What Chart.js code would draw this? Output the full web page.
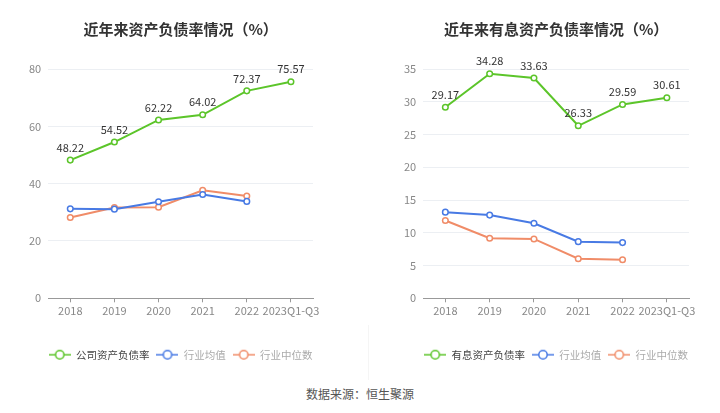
<!DOCTYPE html>
<html>
<head>
<meta charset="utf-8">
<script src="https://cdn.jsdelivr.net/npm/chart.js@4"></script>
<style>
  body { margin: 0; background: #fff; width: 720px; height: 413px; overflow: hidden; font-family: "Noto Sans CJK SC", sans-serif; }
  .wrap { position: absolute; top: 0; width: 360px; height: 378px; }
  #left { left: 0; }
  #right { left: 360px; }
  .divider { position: absolute; left: 368px; top: 325px; width: 1px; height: 55px; background: #f5f5f5; }
  .source { position: absolute; top: 385px; width: 720px; text-align: center; font-size: 12px; color: #555; }
</style>
</head>
<body>
<div class="wrap" id="left"><canvas id="chartLeft"></canvas></div>
<div class="wrap" id="right"><canvas id="chartRight"></canvas></div>
<div class="divider"></div>
<div class="source">数据来源：恒生聚源</div>
<script>
// categories
const years = ["2018", "2019", "2020", "2021", "2022", "2023Q1-Q3"];

// left chart: 资产负债率 (%)
const assetDebtRatio = [48.22, 54.52, 62.22, 64.02, 72.37, 75.57];
const assetIndustryMean = [31.2, 31.1, 33.7, 36.2, 33.8, null];
const assetIndustryMedian = [28.2, 31.7, 31.8, 37.7, 35.7, null];

// right chart: 有息资产负债率 (%)
const interestDebtRatio = [29.17, 34.28, 33.63, 26.33, 29.59, 30.61];
const interestIndustryMean = [13.15, 12.7, 11.46, 8.65, 8.5, null];
const interestIndustryMedian = [11.87, 9.16, 9.06, 6.04, 5.88, null];

const GREEN = "rgb(92,197,42)";
const BLUE = "rgb(72,122,228)";
const ORANGE = "rgb(240,140,104)";
const FONT = "'Noto Sans CJK SC', sans-serif";

function legendIcon(color) {
  const c = document.createElement("canvas");
  c.width = 22; c.height = 12;
  const g = c.getContext("2d");
  g.strokeStyle = color;
  g.lineWidth = 1.5;
  g.beginPath(); g.moveTo(0, 6); g.lineTo(22, 6); g.stroke();
  g.fillStyle = "#fff";
  g.beginPath(); g.arc(11, 6, 4.2, 0, Math.PI * 2); g.fill(); g.stroke();
  return c;
}

const valueLabels = {
  id: "valueLabels",
  afterDatasetsDraw(chart) {
    const ctx = chart.ctx;
    const meta = chart.getDatasetMeta(0);
    const vals = chart.data.datasets[0].data;
    ctx.save();
    ctx.font = "11px " + FONT;
    ctx.fillStyle = "#333";
    ctx.textAlign = "center";
    ctx.textBaseline = "bottom";
    meta.data.forEach((pt, i) => {
      ctx.fillText(vals[i].toFixed(2), pt.x, pt.y - 7);
    });
    ctx.restore();
  }
};

// push the legend down below the ticks; centre legend and title on the plot area
const LEGEND_GAP = 23;
const legendPlace = {
  id: "legendPlace",
  beforeInit(chart) {
    const fit = chart.legend.fit;
    chart.legend.fit = function () {
      fit.call(this);
      this.height += LEGEND_GAP;
    };
  },
  afterLayout(chart) {
    const mid = (chart.chartArea.left + chart.chartArea.right) / 2;
    const lg = chart.legend;
    lg.top += LEGEND_GAP;
    lg.bottom += LEGEND_GAP;
    lg.left = mid - 180;
    lg.right = mid + 180;
    lg.width = 360;
    const tt = chart.titleBlock;
    if (tt) {
      tt.left = mid - 180;
      tt.right = mid + 180;
      tt.width = 360;
    }
  }
};

function makeChart(id, title, names, series, yMax, yStep, padL, padR) {
  const colors = [GREEN, BLUE, ORANGE];
  const textColors = ["#444", "#aaa", "#aaa"];
  new Chart(document.getElementById(id), {
    type: "line",
    data: {
      labels: years,
      datasets: series.map((d, i) => ({
        label: names[i],
        data: d,
        borderColor: colors[i],
        backgroundColor: "#fff",
        borderWidth: 2,
        pointRadius: 2.8,
        pointBorderWidth: 1.5,
        pointBackgroundColor: "#fff",
        pointStyle: "circle",
        tension: 0,
        spanGaps: false
      }))
    },
    options: {
      responsive: true,
      maintainAspectRatio: false,
      animation: false,
      layout: { padding: { left: padL, right: padR, top: 0, bottom: 8 } },
      plugins: {
        title: {
          display: true,
          text: title,
          color: "#333",
          font: { family: FONT, size: 15, weight: "bold" },
          padding: { top: 20, bottom: 31 }
        },
        legend: {
          position: "bottom",
          align: "center",
          labels: {
            usePointStyle: true,
            pointStyleWidth: 22,
            boxHeight: 11,
            padding: 7,
            font: { family: FONT, size: 10.5 },
            generateLabels(chart) {
              return chart.data.datasets.map((ds, i) => ({
                text: ds.label,
                pointStyle: legendIcon(colors[i]),
                fontColor: textColors[i],
                strokeStyle: colors[i],
                fillStyle: "#fff",
                lineWidth: 0,
                datasetIndex: i,
                hidden: false
              }));
            }
          }
        },
        tooltip: { enabled: false }
      },
      scales: {
        x: {
          offset: true,
          grid: { display: true, drawOnChartArea: false, drawTicks: true, tickLength: 4, tickColor: "#999", offset: false },
          border: { color: "#999" },
          ticks: { color: "#888", font: { family: FONT, size: 11 }, maxRotation: 0, autoSkip: false, padding: 2 }
        },
        y: {
          min: 0,
          max: yMax,
          grid: { color: "#eceff3", drawTicks: false },
          border: { display: false },
          ticks: { stepSize: yStep, color: "#888", font: { family: FONT, size: 11 }, padding: 7 }
        }
      }
    },
    plugins: [valueLabels, legendPlace]
  });
}

makeChart("chartLeft", "近年来资产负债率情况（%）",
  ["公司资产负债率", "行业均值", "行业中位数"],
  [assetDebtRatio, assetIndustryMean, assetIndustryMedian], 80, 20, 22, 47);

makeChart("chartRight", "近年来有息资产负债率情况（%）",
  ["有息资产负债率", "行业均值", "行业中位数"],
  [interestDebtRatio, interestIndustryMean, interestIndustryMedian], 35, 5, 37, 31);
</script>
</body>
</html>
